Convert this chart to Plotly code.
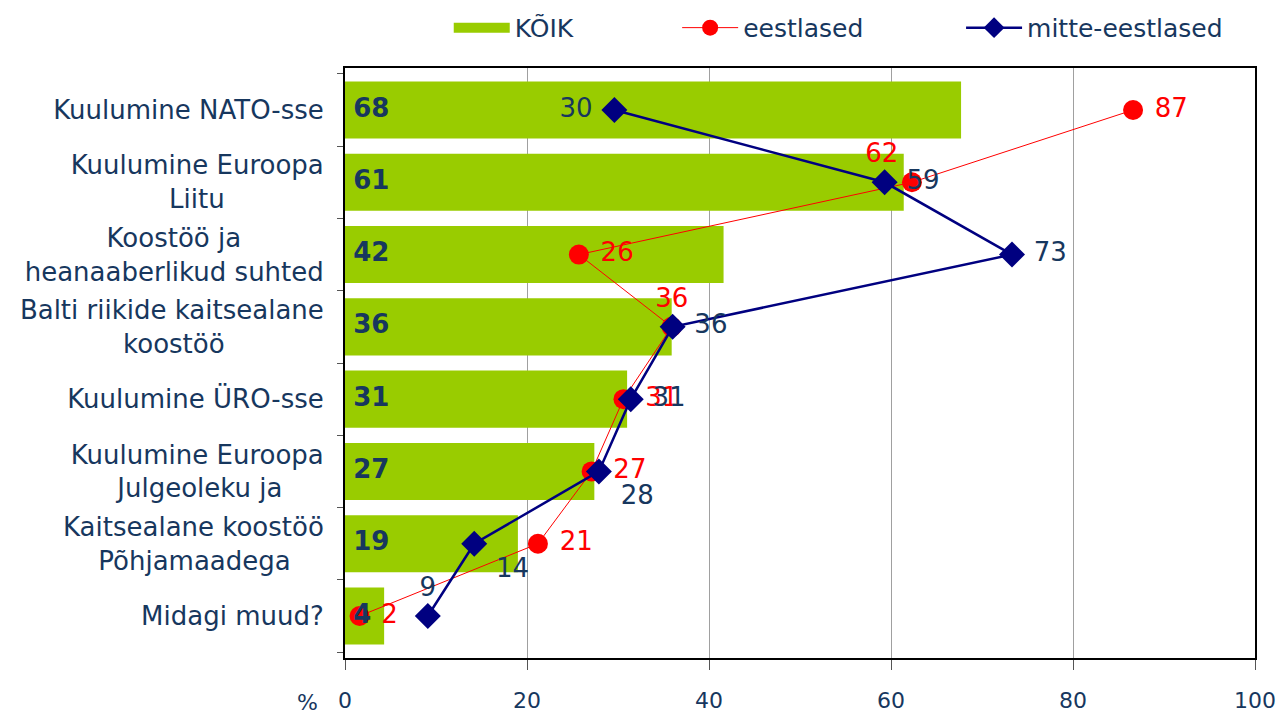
import plotly.graph_objects as go

categories = [
    "Kuulumine NATO-sse",
    "Kuulumine Euroopa<br>Liitu",
    "Koostöö ja<br>heanaaberlikud suhted",
    "Balti riikide kaitsealane<br>koostöö",
    "Kuulumine ÜRO-sse",
    "Kuulumine Euroopa<br>Julgeoleku ja",
    "Kaitsealane koostöö<br>Põhjamaadega",
    "Midagi muud?",
]
koik = [67.7, 61.4, 41.6, 35.9, 31.0, 27.4, 19.0, 4.3]
eestlased = [86.6, 62.3, 25.7, 35.9, 30.6, 27.1, 21.2, 1.6]
mitte_eestlased = [29.6, 59.3, 73.3, 36.0, 31.4, 27.9, 14.2, 9.1]
x_ticks = [0, 20, 40, 60, 80, 100]

navy_text = "#17375E"
font_family = "DejaVu Sans"
NB = "\u00a0"

# approximate DejaVu Sans advance widths (em) for centring multi-line tick labels
W = {' ': .318, 'a': .613, 'b': .635, 'd': .635, 'e': .615, 'g': .635, 'h': .634, 'i': .278,
     'j': .278, 'k': .579, 'l': .278, 'm': .974, 'n': .634, 'o': .612, 'ö': .612, 'õ': .612,
     'p': .635, 'r': .411, 's': .521, 't': .392, 'u': .634, 'K': .656, 'L': .557, 'E': .632,
     'J': .295, 'B': .686, 'P': .603}


def width(s):
    return sum(W.get(c, .6) for c in s)


def centred(label):
    lines = label.split("<br>")
    if len(lines) == 1:
        return label
    wmax = max(width(l) for l in lines)
    out = []
    for l in lines:
        n = int(round((wmax - width(l)) / 2 / W[' ']))
        out.append(l + NB * n)
    return "<br>".join(out)


def padded(values, positions):
    out = []
    for v, p in zip(values, positions):
        s = str(round(v))
        if p.endswith("right"):
            s = NB + s
        elif p == "middle left":
            s = s + NB
        out.append(s)
    return out


tick_text = [centred(c) for c in categories]

eest_pos = ["middle right", "top left", "middle right", "top center",
            "middle right", "middle right", "middle right", "middle right"]
mitte_pos = ["middle left", "middle right", "middle right", "middle right",
             "middle right", "bottom right", "bottom right", "top center"]

fig = go.Figure()
fig.add_trace(go.Bar(
    y=categories, x=koik, orientation="h", name="KÕIK", showlegend=False,
    marker=dict(color="#99CC00", line=dict(width=0)),
))
# legend swatch for the bars
fig.add_trace(go.Scatter(
    y=[None], x=[None], name="KÕIK", mode="lines", legend="legend",
    line=dict(color="#99CC00", width=17),
))
fig.add_trace(go.Scatter(
    y=categories, x=eestlased, name="eestlased", mode="lines+markers+text", legend="legend2",
    line=dict(color="#FF0000", width=1),
    marker=dict(symbol="circle", size=20, color="#FF0000"),
    text=padded(eestlased, eest_pos), textposition=eest_pos,
    textfont=dict(color="#FF0000", size=26, family=font_family),
    cliponaxis=False,
))
fig.add_trace(go.Scatter(
    y=categories, x=mitte_eestlased, name="mitte-eestlased", mode="lines+markers+text",
    legend="legend3",
    line=dict(color="#000080", width=2.5),
    marker=dict(symbol="diamond", size=20, color="#000080"),
    text=padded(mitte_eestlased, mitte_pos), textposition=mitte_pos,
    textfont=dict(color=navy_text, size=26, family=font_family),
    cliponaxis=False,
))
# bar value labels at the base of each bar (drawn on top)
fig.add_trace(go.Scatter(
    y=categories, x=[0] * len(koik), mode="text", showlegend=False,
    text=[f"{NB}<b>{round(v)}</b>" for v in koik], textposition="middle right",
    textfont=dict(color=navy_text, size=26, family=font_family),
    cliponaxis=False,
))

leg_common = dict(orientation="h", y=1.068, yanchor="middle", xanchor="left",
                  font=dict(size=25, color=navy_text, family=font_family),
                  bgcolor="rgba(0,0,0,0)", itemwidth=56)

fig.update_layout(
    width=1283, height=715,
    margin=dict(l=345, r=28, t=68, b=57, autoexpand=False),
    paper_bgcolor="white", plot_bgcolor="white",
    font=dict(family=font_family, color=navy_text, size=26),
    bargap=0.21,
    showlegend=True,
    legend=dict(x=0.114, **leg_common),
    legend2=dict(x=0.365, **leg_common),
    legend3=dict(x=0.677, **leg_common),
    annotations=[dict(text="%", xref="paper", yref="paper", x=-0.028, y=0,
                      yshift=-44, showarrow=False, font=dict(size=22, color=navy_text),
                      xanchor="right", yanchor="middle")],
)
fig.update_xaxes(range=[0, 100], tickvals=x_ticks, showgrid=True, gridcolor="#A0A0A0",
                 gridwidth=1, showline=True, linecolor="black", linewidth=2, mirror=True,
                 ticks="outside", ticklen=10, tickcolor="#555555", zeroline=False,
                 automargin=False, ticklabelstandoff=12,
                 tickfont=dict(size=22, color=navy_text))
fig.update_yaxes(categoryorder="array", categoryarray=categories, autorange="reversed",
                 tickvals=categories, ticktext=tick_text,
                 showline=True, linecolor="black", linewidth=2, mirror=True,
                 ticks="outside", ticklen=6, tickcolor="#555555", tickson="boundaries",
                 automargin=False, ticklabelstandoff=14,
                 tickfont=dict(size=26, color=navy_text))

fig.write_html(
    "out.html",
    config={"displayModeBar": False},
    post_script="document.body.style.margin='0';document.body.style.overflow='hidden';",
)
